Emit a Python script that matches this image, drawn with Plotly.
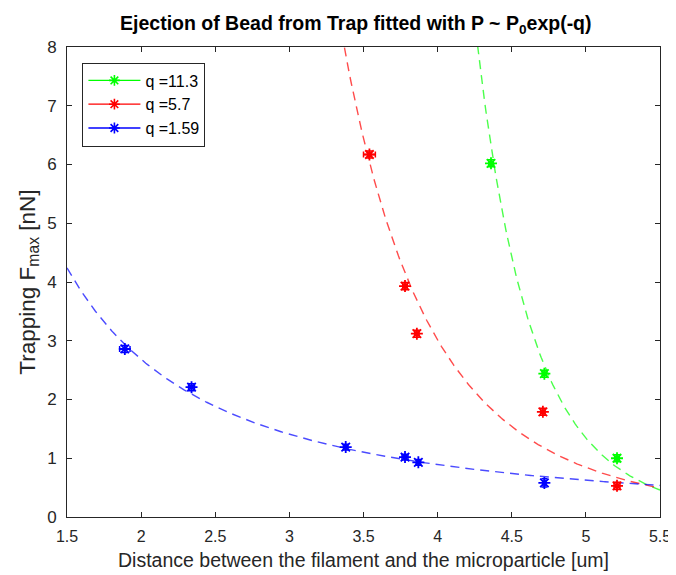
import numpy as np
import plotly.graph_objects as go

# ---- data ----
x_green = [4.36, 4.72, 5.21]
y_green = [6.02, 2.44, 1.00]
ex_green = [0.015, 0.015, 0.015]
ey_green = [0.06, 0.06, 0.06]

x_red = [3.54, 3.78, 3.86, 4.71, 5.21]
y_red = [6.17, 3.93, 3.12, 1.79, 0.53]
ex_red = [0.04, 0.015, 0.015, 0.015, 0.02]
ey_red = [0.06, 0.06, 0.06, 0.06, 0.06]

x_blue = [1.89, 2.34, 3.38, 3.78, 3.87, 4.72]
y_blue = [2.86, 2.21, 1.19, 1.02, 0.93, 0.58]
ex_blue = [0.035, 0.02, 0.015, 0.02, 0.015, 0.01]
ey_blue = [0.06, 0.06, 0.05, 0.05, 0.05, 0.07]

# fit  F = P0 * x^(-q)
q_vals = [11.3, 5.7, 1.59]
p0_vals = [1.0639e8, 8136.0, 8.079]
labels = ["q =11.3", "q =5.7", "q =1.59"]
colors = ["#00ff00", "#ff0000", "#0000ff"]

x_ticks = [1.5, 2, 2.5, 3, 3.5, 4, 4.5, 5, 5.5]
x_ticktext = ["1.5", "2", "2.5", "3", "3.5", "4", "4.5", "5", "5.5"]
y_ticks = [0, 1, 2, 3, 4, 5, 6, 7, 8]

series = [(x_green, y_green, ex_green, ey_green),
          (x_red, y_red, ex_red, ey_red),
          (x_blue, y_blue, ex_blue, ey_blue)]

FONT = "Liberation Sans, Arial, Helvetica"

fig = go.Figure()
xf = np.linspace(1.5, 5.5, 400)

# fitted dashed curves (drawn first, below markers)
for q, p0, c in zip(q_vals, p0_vals, colors):
    yf = p0 * xf ** (-q)
    yf = np.where(yf > 8.5, np.nan, yf)
    fig.add_trace(go.Scatter(x=xf, y=yf, mode="lines",
                             line=dict(color=c, width=1.4, dash="9px,6px"),
                             opacity=0.7, showlegend=False, hoverinfo="skip"))

# data with error bars
for (xs, ys, ex, ey), c in zip(series, colors):
    fig.add_trace(go.Scatter(
        x=xs, y=ys, mode="markers",
        marker=dict(symbol="asterisk-open", size=10, color=c,
                    line=dict(color=c, width=1.8)),
        error_x=dict(type="data", array=ex, color=c, thickness=1.5, width=3),
        error_y=dict(type="data", array=ey, color=c, thickness=1.5, width=3),
        showlegend=False))

# legend entries
for lab, c in zip(labels, colors):
    fig.add_trace(go.Scatter(
        x=[None], y=[None], mode="lines+markers", name=lab,
        line=dict(color=c, width=1.3),
        marker=dict(symbol="asterisk-open", size=9, color=c,
                    line=dict(color=c, width=1.6))))

axis_common = dict(showline=True, linecolor="#262626", linewidth=1,
                   mirror="ticks", ticks="inside", ticklen=5,
                   tickcolor="#262626", showgrid=False, zeroline=False,
                   automargin=False)

# the page body adds an 8px offset, so the figure is 8px smaller
fig.update_layout(
    width=668, height=567,
    paper_bgcolor="white", plot_bgcolor="white",
    margin=dict(l=59, r=16, t=39, b=58),
    title=dict(text="<b>Ejection of Bead from Trap fitted with P ~ P<sub>0</sub>exp(-q)</b>",
               xref="paper", x=0.487, xanchor="center", y=0.9735, yanchor="middle",
               automargin=False,
               font=dict(family=FONT, size=19.5, color="#000000")),
    xaxis=dict(range=[1.5, 5.5], tickvals=x_ticks, ticktext=x_ticktext,
               ticklabelstandoff=5,
               tickfont=dict(family=FONT, size=16, color="#262626"),
               title=dict(text="Distance between the filament and the microparticle [um]",
                          font=dict(family=FONT, size=19.5, color="#262626"),
                          standoff=9),
               **axis_common),
    yaxis=dict(range=[0, 8], tickvals=y_ticks,
               ticklabelstandoff=6,
               tickfont=dict(family=FONT, size=17, color="#262626"),
               title=dict(text="Trapping F<sub>max</sub> [nN]",
                          font=dict(family=FONT, size=22.5, color="#262626"),
                          standoff=5),
               **axis_common),
    legend=dict(x=0.026, y=0.967, xanchor="left", yanchor="top",
                bgcolor="white", bordercolor="#262626", borderwidth=1,
                font=dict(family=FONT, size=16, color="#000000"),
                itemwidth=52),
    showlegend=True,
)

fig.write_html("out.html")
